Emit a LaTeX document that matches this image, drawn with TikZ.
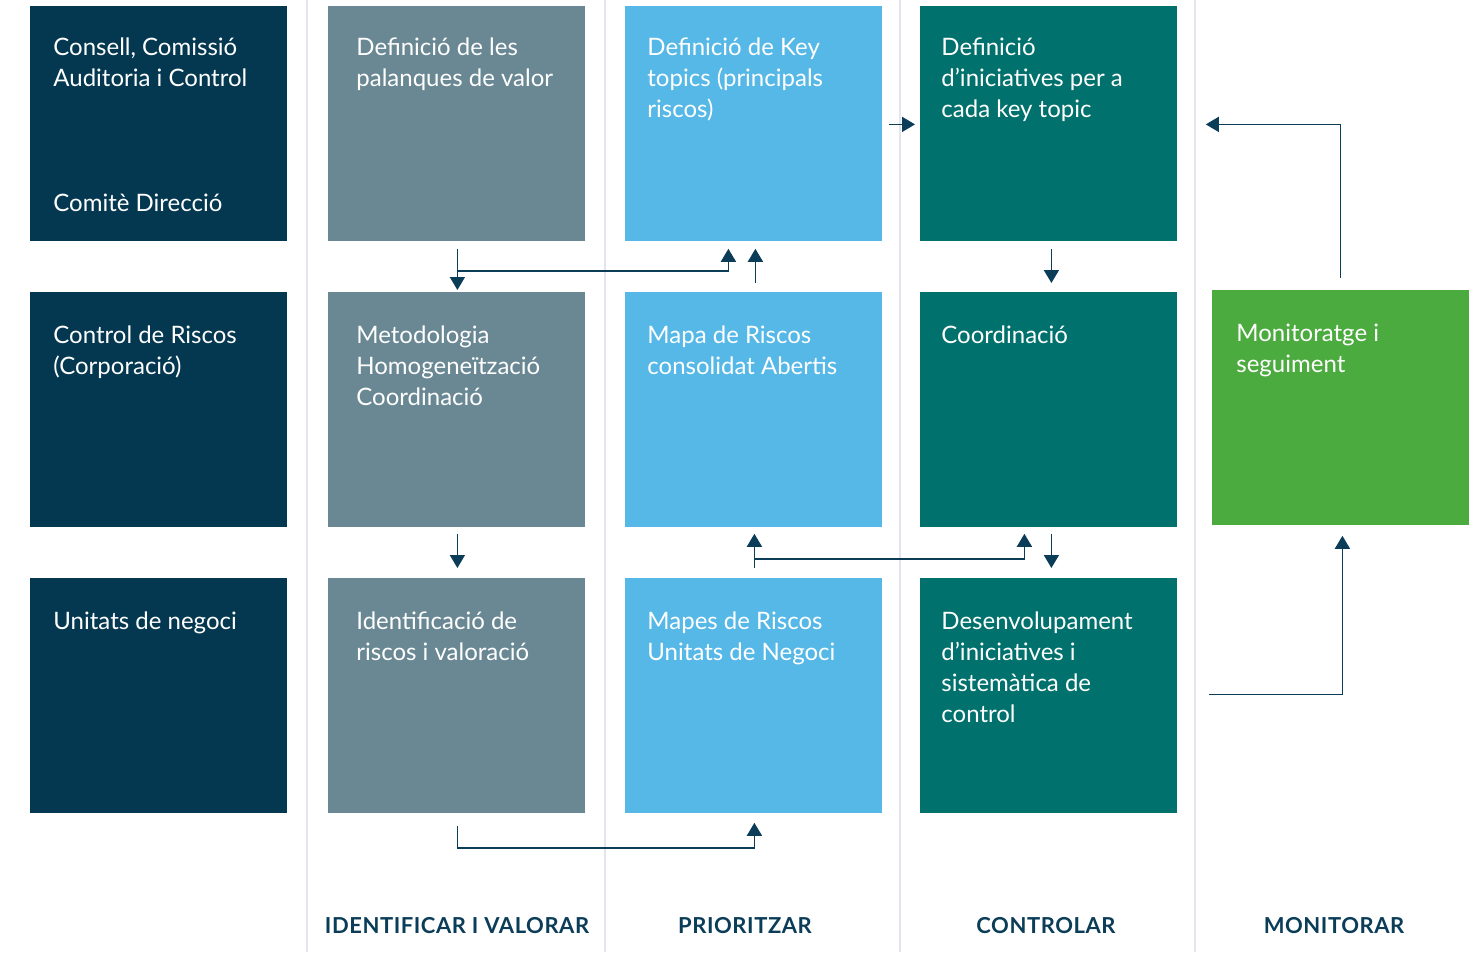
\documentclass[tikz,border=0pt]{standalone}
\usepackage{fontspec}
\setmainfont{Lato}
\usetikzlibrary{arrows.meta,calc}
\definecolor{navy}{HTML}{043851}
\definecolor{slate}{HTML}{6A8893}
\definecolor{sky}{HTML}{56B8E7}
\definecolor{teal}{HTML}{00716C}
\definecolor{leaf}{HTML}{4CAB3F}
\definecolor{ink}{HTML}{0B3D58}
\definecolor{sep}{HTML}{E4E4EC}
\newcommand{\mylines}[1]{\begin{tabular}[t]{@{}l@{}}#1\end{tabular}}
\begin{document}
\begin{tikzpicture}[x=0.5pt,y=-0.5pt,
  box/.style={draw=none,inner sep=0pt,minimum width=128.5pt,minimum height=117.5pt,anchor=north west},
  txt/.style={anchor=base west,inner sep=0pt,text=white,font=\fontsize{12}{15.5}\selectfont},
  phase/.style={anchor=base,inner sep=0pt,text=ink,font=\fontsize{11}{13}\selectfont\bfseries\addfontfeatures{LetterSpace=2.5}},
  arr/.style={draw=ink,line width=0.85pt,-{Triangle[width=7.5pt,length=6.5pt]}},
  sepline/.style={draw=sep,line width=1pt}]
\useasboundingbox (0,0) rectangle (1475,952);
% separators
\foreach \x in {307,605,900,1195} \draw[sepline] (\x,0) -- (\x,952);
% boxes
\node[box,fill=navy] (a1) at (30,6) {};
\node[box,fill=navy] (a2) at (30,292) {};
\node[box,fill=navy] (a3) at (30,578) {};
\node[box,fill=slate] (b1) at (328,6) {};
\node[box,fill=slate] (b2) at (328,292) {};
\node[box,fill=slate] (b3) at (328,578) {};
\node[box,fill=sky] (c1) at (625,6) {};
\node[box,fill=sky] (c2) at (625,292) {};
\node[box,fill=sky] (c3) at (625,578) {};
\node[box,fill=teal] (d1) at (920,6) {};
\node[box,fill=teal] (d2) at (920,292) {};
\node[box,fill=teal] (d3) at (920,578) {};
\node[box,fill=leaf] (e2) at (1212,290) {};
% texts
\node[txt] (ta1) at ($(a1.north west)+(23,50)$) {\mylines{Consell, Comissió\\Auditoria i Control}};
\node[txt] (ta1b) at ($(a1.north west)+(23,206)$) {Comitè Direcció};
\node[txt] (ta2) at ($(a2.north west)+(23,51)$) {\mylines{Control de Riscos\\(Corporació)}};
\node[txt] (ta3) at ($(a3.north west)+(23,51)$) {Unitats de negoci};
\node[txt] (tb1) at ($(b1.north west)+(28,50)$) {\mylines{Definició de les\\palanques de valor}};
\node[txt] (tb2) at ($(b2.north west)+(28,51)$) {\mylines{Metodologia\\Homogeneïtzació\\Coordinació}};
\node[txt] (tb3) at ($(b3.north west)+(28,51)$) {\mylines{Identificació de\\riscos i valoració}};
\node[txt] (tc1) at ($(c1.north west)+(22,50)$) {\mylines{Definició de Key\\topics (principals\\riscos)}};
\node[txt] (tc2) at ($(c2.north west)+(22,51)$) {\mylines{Mapa de Riscos\\consolidat Abertis}};
\node[txt] (tc3) at ($(c3.north west)+(22,51)$) {\mylines{Mapes de Riscos\\Unitats de Negoci}};
\node[txt] (td1) at ($(d1.north west)+(21,50)$) {\mylines{Definició\\d’iniciatives per a\\cada key topic}};
\node[txt] (td2) at ($(d2.north west)+(21,51)$) {Coordinació};
\node[txt] (td3) at ($(d3.north west)+(21,51)$) {\mylines{Desenvolupament\\d’iniciatives i\\sistemàtica de\\control}};
\node[txt] (te2) at ($(e2.north west)+(24,51)$) {\mylines{Monitoratge i\\seguiment}};
% phase labels
\node[phase] (p1) at (457,933) {IDENTIFICAR I VALORAR};
\node[phase] (p2) at (745,933) {PRIORITZAR};
\node[phase] (p3) at (1046,933) {CONTROLAR};
\node[phase] (p4) at (1334,933) {MONITORAR};
% connectors
\coordinate (j1) at ($(b1.south)+(0.5,29)$);
\draw[arr] ($(b1.south)+(0.5,7)$) -- ($(b2.north)+(0.5,-2)$);
\draw[arr] (j1) -| ($(c1.south)+(-25.5,7)$);
\draw[arr] ($(c2.north)+(1.5,-9)$) -- ($(c1.south)+(1.5,7)$);
\draw[arr] ($(c1.east)+(6,0.5)$) -- ($(d1.west)+(-5,0.5)$);
\draw[arr] ($(d1.south)+(2.5,7)$) -- ($(d2.north)+(2.5,-9)$);
\draw[arr] ($(e2.north)+(-0.5,-12)$) |- ($(d1.east)+(28,0.5)$);
\draw[arr] ($(b2.south)+(0.5,6)$) -- ($(b3.north)+(0.5,-10)$);
\coordinate (j2) at ($(c3.north)+(0.5,-19)$);
\draw[arr] ($(c3.north)+(0.5,-10)$) -- ($(c2.south)+(0.5,6)$);
\draw[arr] (j2) -| ($(d2.south)+(-24.5,6)$);
\draw[arr] ($(d2.south)+(2.5,6)$) -- ($(d3.north)+(2.5,-10)$);
\draw[arr] ($(b3.south)+(0.5,12)$) |- ($(c3.south)+(0.5,34)$) -- ($(c3.south)+(0.5,9)$);
\draw[arr] ($(d3.east)+(31,-1.5)$) -| ($(e2.south)+(1.5,10)$);
\end{tikzpicture}
\end{document}
